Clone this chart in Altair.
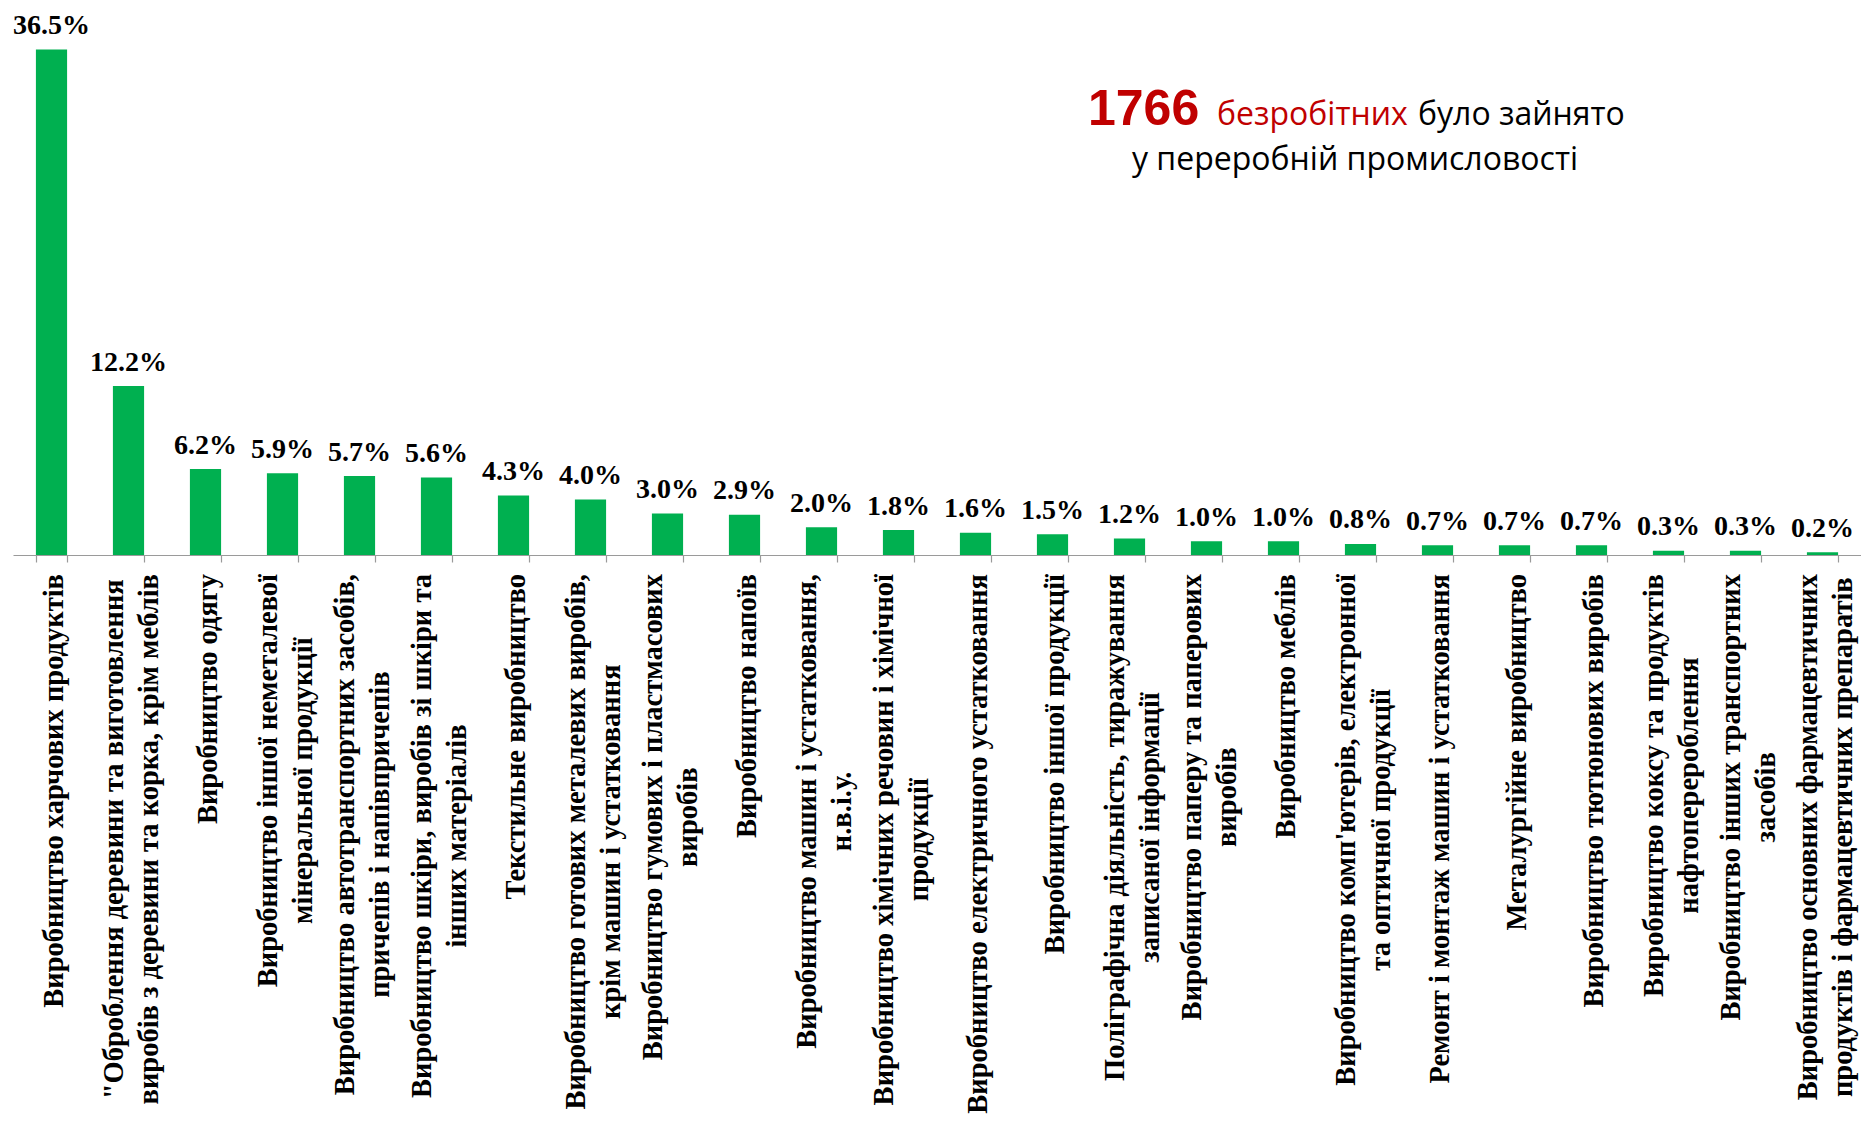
import altair as alt
import pandas as pd

# ---------------- data ----------------
categories = [
    "Виробництво харчових продуктів",
    "\"Оброблення деревини та виготовлення\nвиробів з деревини та корка, крім меблів",
    "Виробництво одягу",
    "Виробництво іншої неметалевої\nмінеральної продукції",
    "Виробництво автотранспортних засобів,\nпричепів і напівпричепів",
    "Виробництво шкіри, виробів зі шкіри та\nінших матеріалів",
    "Текстильне виробництво",
    "Виробництво готових металевих виробів,\nкрім машин і устатковання",
    "Виробництво гумових і пластмасових\nвиробів",
    "Виробництво напоїв",
    "Виробництво машин і устатковання,\nн.в.і.у.",
    "Виробництво хімічних речовин і хімічної\nпродукції",
    "Виробництво електричного устатковання",
    "Виробництво іншої продукції",
    "Поліграфічна діяльність, тиражування\nзаписаної інформації",
    "Виробництво паперу та паперових\nвиробів",
    "Виробництво меблів",
    "Виробництво комп'ютерів, електронної\nта оптичної продукції",
    "Ремонт і монтаж машин і устатковання",
    "Металургійне виробництво",
    "Виробництво тютюнових виробів",
    "Виробництво коксу та продуктів\nнафтоперероблення",
    "Виробництво інших транспортних\nзасобів",
    "Виробництво основних фармацевтичних\nпродуктів і фармацевтичних препаратів",
]
values = [36.5, 12.2, 6.2, 5.9, 5.7, 5.6, 4.3, 4.0, 3.0, 2.9, 2.0, 1.8,
          1.6, 1.5, 1.2, 1.0, 1.0, 0.8, 0.7, 0.7, 0.7, 0.3, 0.3, 0.2]

note_number = "1766"
note_red = "безробітних"
note_black = "було зайнято"
note_line2 = "у переробній промисловості"

# ---------------- styling ----------------
BAR_COLOR = "#00B050"
RED = "#C00000"
AXIS_GRAY = "#9A9A9A"
SERIF = "Liberation Serif"
LABEL_SIZE = 28.5
PLOT_W, PLOT_H = 1848, 507
LABEL_GAP = 19
TOP_PAD = 40

# text width estimate (for centring the second line of rotated labels)
try:
    from PIL import ImageFont
    _font = ImageFont.truetype("LiberationSerif-Bold.ttf", LABEL_SIZE)

    def text_w(s):
        return _font.getlength(s)
except Exception:
    _w = {}
    for ch, w in [("абоухьзсе", 0.50), ("вгдкл", 0.54), ("инпйцчря", 0.57),
                  ("жмфю", 0.74), ("шщ", 0.83), ("ії'.,; ", 0.27),
                  ("ВБЕРТ", 0.66), ("ОПМНКИДАУХЦ", 0.76), ("\"", 0.55)]:
        for c in ch:
            _w[c] = w

    def text_w(s):
        return sum(_w.get(c, 0.52) for c in s) * LABEL_SIZE

df = pd.DataFrame({"cat": categories, "value": values})
df["label"] = [f"{v:.1f}%" for v in values]

rows = []
for c in categories:
    lines = c.split("\n")
    ws = [text_w(s) for s in lines]
    m = max(ws)
    n = len(lines)
    for j, (s, w) in enumerate(zip(lines, ws)):
        pos = "single" if n == 1 else ("first" if j == 0 else "second")
        rows.append({"cat": c, "line": s, "pos": pos,
                     "ypix": PLOT_H + LABEL_GAP + (m - w) / 2})
ldf = pd.DataFrame(rows)

y_scale = alt.Scale(domain=[0, 36.6])

x_enc = alt.X(
    "cat:N", sort=categories, title=None,
    scale=alt.Scale(paddingInner=0.595, paddingOuter=0.2975),
    axis=alt.Axis(labels=False, title=None, domainColor=AXIS_GRAY,
                  tickColor=AXIS_GRAY, tickSize=7, tickBand="extent",
                  domainWidth=1.2, tickWidth=1.2, grid=False),
)

bars = alt.Chart(df).mark_bar(color=BAR_COLOR).encode(
    x=x_enc,
    y=alt.Y("value:Q", scale=y_scale, axis=None),
)

pct = alt.Chart(df).mark_text(
    font=SERIF, fontWeight="bold", fontSize=28, dy=-15.5,
    baseline="alphabetic", align="center", color="black",
).encode(
    x=alt.X("cat:N", sort=categories),
    y=alt.Y("value:Q", scale=y_scale, axis=None),
    text="label:N",
)


def label_layer(pos, dy):
    return alt.Chart(ldf).transform_filter(
        alt.datum.pos == pos
    ).mark_text(
        font=SERIF, fontWeight="bold", fontSize=LABEL_SIZE, angle=270,
        align="right", baseline="middle", dy=dy, color="black",
    ).encode(
        x=alt.X("cat:N", sort=categories),
        y=alt.Y("ypix:Q", scale=None, axis=None),
        text="line:N",
    )


lab1 = label_layer("single", 2)
lab2 = label_layer("first", -15)
lab3 = label_layer("second", 20)


def note(text, x, y, size, color, weight="normal", font="Open Sans", align="left"):
    return alt.Chart(pd.DataFrame({"t": [text]})).mark_text(
        font=font, fontSize=size, fontWeight=weight, color=color,
        align=align, baseline="alphabetic",
    ).encode(x=alt.value(x), y=alt.value(y), text="t:N")


n1 = note(note_number, 1075, 125 - 8 - TOP_PAD, 50, RED, "bold", "Liberation Sans")
n2 = note(note_red, 1204, 125 - 8 - TOP_PAD, 32, RED)
n3 = note(note_black, 1405, 125 - 8 - TOP_PAD, 32, "black")
n4 = note(note_line2, 1342, 170 - 8 - TOP_PAD, 32, "black", align="center")

chart = alt.layer(bars, pct, lab1, lab2, lab3, n1, n2, n3, n4).properties(
    width=PLOT_W, height=PLOT_H,
    autosize=alt.AutoSizeParams(type="none"),
    padding={"left": 5, "right": 0, "top": TOP_PAD, "bottom": 562},
    background="white",
).configure_view(stroke=None)

chart.save("out.html", embed_options={"renderer": "svg", "actions": False})
